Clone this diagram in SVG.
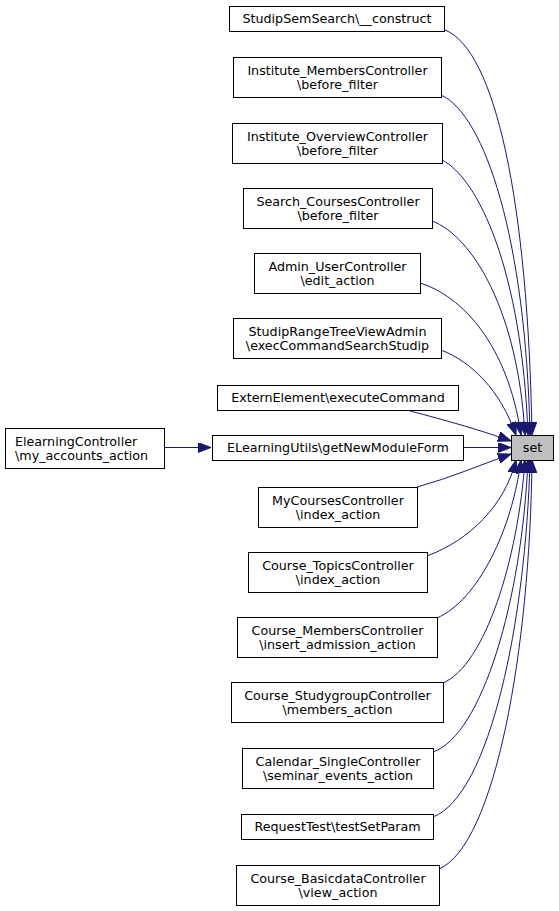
<svg xmlns="http://www.w3.org/2000/svg" width="559" height="911" viewBox="0 0 559 911">
<style>
.node rect{fill:#ffffff;stroke:#000000;stroke-width:1}
.node.hl rect{fill:#bfbfbf}
text{font-family:"DejaVu Sans","Liberation Sans",sans-serif;font-size:12.7px;fill:#000000;text-anchor:middle}
.edges path{fill:none;stroke:#191970;stroke-width:1;marker-end:url(#arr)}
</style>
<defs>
<marker id="arr" viewBox="0 0 13 10" refX="13" refY="5" markerWidth="13" markerHeight="10" markerUnits="userSpaceOnUse" orient="auto">
<path d="M0,0 L13,5 L0,10 z" fill="#191970" stroke="#191970" stroke-width="1"/>
</marker>
</defs>
<rect width="559" height="911" fill="#ffffff"/>
<g class="edges" id="edges">
<path d="M445,30 C495,50 528,200 532,435"/>
<path d="M441,95 C485,115 526,240 530,435"/>
<path d="M442,160 C478,178 522,270 528,435"/>
<path d="M432,221 C472,236 518,310 525,435"/>
<path d="M420,283 C462,296 508,345 521,435"/>
<path d="M441,350 C472,362 500,390 516,435"/>
<path d="M410,411 C445,420 480,430 511,441"/>
<path d="M463,447.5 L511,447.5"/>
<path d="M417,487 C450,478 480,465 511,454"/>
<path d="M427,556 C470,540 505,505 516,460"/>
<path d="M437,618 C478,600 512,530 521,460"/>
<path d="M443,683 C485,665 518,560 525,460"/>
<path d="M433,752 C482,735 522,600 528,460"/>
<path d="M433,817 C490,795 526,620 530,460"/>
<path d="M439,869 C495,845 530,650 532,460"/>
<path d="M164,447.5 L211,447.5"/>
</g>
<g class="node hl" id="node_set"><rect x="511.5" y="435.5" width="42" height="25"/><text x="532.5" y="452">set</text></g>
<g class="node" id="node_studipsemsearch"><rect x="229.5" y="6.5" width="215" height="25"/><text x="337" y="23">StudipSemSearch\__construct</text></g>
<g class="node" id="node_inst_members"><rect x="233.5" y="57.5" width="208" height="40"/><text x="337.5" y="74.5">Institute_MembersController</text><text x="337.5" y="88.5">\before_filter</text></g>
<g class="node" id="node_inst_overview"><rect x="232.5" y="123.5" width="210" height="40"/><text x="337.5" y="140.5">Institute_OverviewController</text><text x="337.5" y="154.5">\before_filter</text></g>
<g class="node" id="node_search_courses"><rect x="243.5" y="188.5" width="189" height="40"/><text x="338" y="205.5">Search_CoursesController</text><text x="338" y="219.5">\before_filter</text></g>
<g class="node" id="node_admin_user"><rect x="254.5" y="253.5" width="166" height="40"/><text x="337.5" y="270.5">Admin_UserController</text><text x="337.5" y="284.5">\edit_action</text></g>
<g class="node" id="node_rangetree"><rect x="233.5" y="318.5" width="208" height="40"/><text x="337.5" y="335.5">StudipRangeTreeViewAdmin</text><text x="337.5" y="349.5">\execCommandSearchStudip</text></g>
<g class="node" id="node_extern"><rect x="217.5" y="385.5" width="241" height="25"/><text x="338" y="402">ExternElement\executeCommand</text></g>
<g class="node" id="node_elearningutils"><rect x="212.5" y="435.5" width="251" height="25"/><text x="338" y="452">ELearningUtils\getNewModuleForm</text></g>
<g class="node" id="node_elearningcontroller"><rect x="5.5" y="428.5" width="159" height="40"/><text x="15" y="445.5" style="text-anchor:start">ElearningController</text><text x="15" y="459.5" style="text-anchor:start">\my_accounts_action</text></g>
<g class="node" id="node_mycourses"><rect x="258.5" y="487.5" width="159" height="40"/><text x="338" y="504.5">MyCoursesController</text><text x="338" y="518.5">\index_action</text></g>
<g class="node" id="node_topics"><rect x="248.5" y="552.5" width="179" height="40"/><text x="338" y="569.5">Course_TopicsController</text><text x="338" y="583.5">\index_action</text></g>
<g class="node" id="node_members"><rect x="237.5" y="617.5" width="200" height="40"/><text x="337.5" y="634.5">Course_MembersController</text><text x="337.5" y="648.5">\insert_admission_action</text></g>
<g class="node" id="node_studygroup"><rect x="231.5" y="682.5" width="212" height="40"/><text x="337.5" y="699.5">Course_StudygroupController</text><text x="337.5" y="713.5">\members_action</text></g>
<g class="node" id="node_calendar"><rect x="242.5" y="748.5" width="191" height="40"/><text x="338" y="765.5">Calendar_SingleController</text><text x="338" y="779.5">\seminar_events_action</text></g>
<g class="node" id="node_requesttest"><rect x="241.5" y="814.5" width="192" height="25"/><text x="337.5" y="831">RequestTest\testSetParam</text></g>
<g class="node" id="node_basicdata"><rect x="236.5" y="865.5" width="203" height="40"/><text x="338" y="882.5">Course_BasicdataController</text><text x="338" y="896.5">\view_action</text></g>
</svg>
